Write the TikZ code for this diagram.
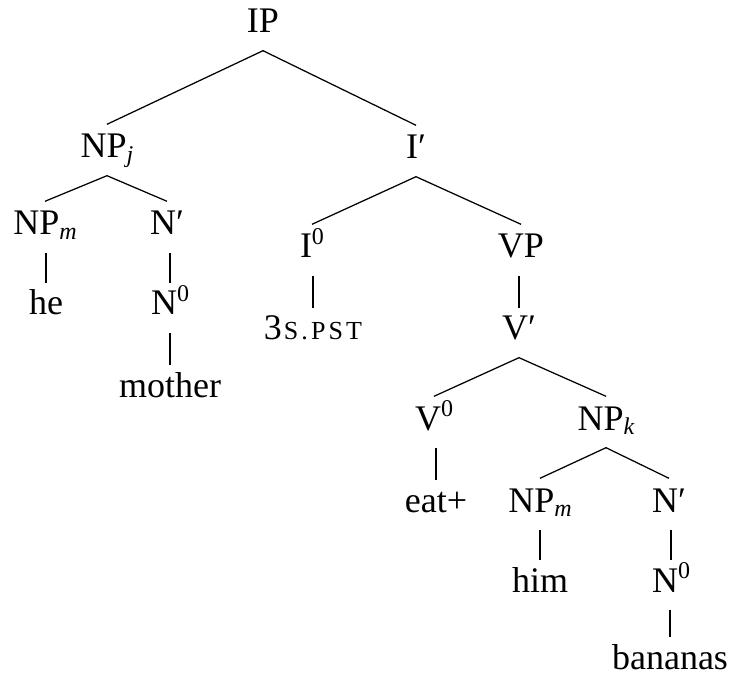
\documentclass[tikz,border=0pt]{standalone}
\usepackage{fontspec}
\setmainfont{Liberation Serif}
\newcommand\lsub[1]{\raisebox{-4.5pt}{\fontsize{24}{24}\selectfont\itshape #1}}
\newcommand\lsup[1]{\raisebox{13.5pt}{\fontsize{24}{24}\selectfont #1}}
\newcommand\lprm{′}
\begin{document}
\begin{tikzpicture}[x=1pt,y=-1pt,
  lbl/.style={font=\fontsize{36}{42}\selectfont, text height=25pt, text depth=9pt,
    inner ysep=8.5pt, inner xsep=0pt, anchor=base},
  edge/.style={line width=1.25pt, black},
  unary/.style={edge, shorten >=-1.5pt}]
\useasboundingbox (0,0) rectangle (731,676);
\node[lbl] (ip) at (263,33) {IP};
\node[lbl] (npj) at (107,158) {NP\lsub{j}};
\node[lbl] (ib) at (416,159) {I\lprm};
\node[lbl] (npm) at (45,235) {NP\lsub{m}};
\node[lbl] (nb) at (167,235) {N\lprm};
\node[lbl] (i0) at (312,258) {I\lsup{0}};
\node[lbl] (vp) at (521,258) {VP};
\node[lbl] (he) at (46,315) {he};
\node[lbl] (n0) at (170,315) {N\lsup{0}};
\node[lbl] (pst) at (313,340) {3\kern2pt{\fontsize{26}{26}\selectfont\addfontfeature{LetterSpace=12}S.PST}};
\node[lbl] (vb) at (519,340) {V\lprm};
\node[lbl] (mother) at (170,397) {mother};
\node[lbl] (v0) at (434,430) {V\lsup{0}};
\node[lbl] (npk) at (606,430) {NP\lsub{k}};
\node[lbl] (eat) at (436,512) {eat+};
\node[lbl] (npm2) at (540,512) {NP\lsub{m}};
\node[lbl] (nb2) at (669,512) {N\lprm};
\node[lbl] (him) at (540,592) {him};
\node[lbl] (n02) at (671,592) {N\lsup{0}};
\node[lbl] (ban) at (670,669) {bananas};
% branching edges
\draw[edge] (npj.north) -- (ip.south) -- (ib.north);
\draw[edge] (npm.north) -- (npj.south) -- (nb.north);
\draw[edge] (i0.north) -- (ib.south) -- (vp.north);
\draw[edge] (v0.north) -- (vb.south) -- (npk.north);
\draw[edge] (npm2.north) -- (npk.south) -- (nb2.north);
% unary edges
\draw[unary] (he.north |- npm.south) -- (he.north);
\draw[unary] (n0.north |- nb.south) -- (n0.north);
\draw[unary] (mother.north |- n0.south) -- (mother.north);
\draw[unary] (pst.north |- i0.south) -- (pst.north);
\draw[unary] (vb.north |- vp.south) -- (vb.north);
\draw[unary] (eat.north |- v0.south) -- (eat.north);
\draw[unary] (him.north |- npm2.south) -- (him.north);
\draw[unary] (n02.north |- nb2.south) -- (n02.north);
\draw[unary] (ban.north |- n02.south) -- (ban.north);
\end{tikzpicture}
\end{document}
